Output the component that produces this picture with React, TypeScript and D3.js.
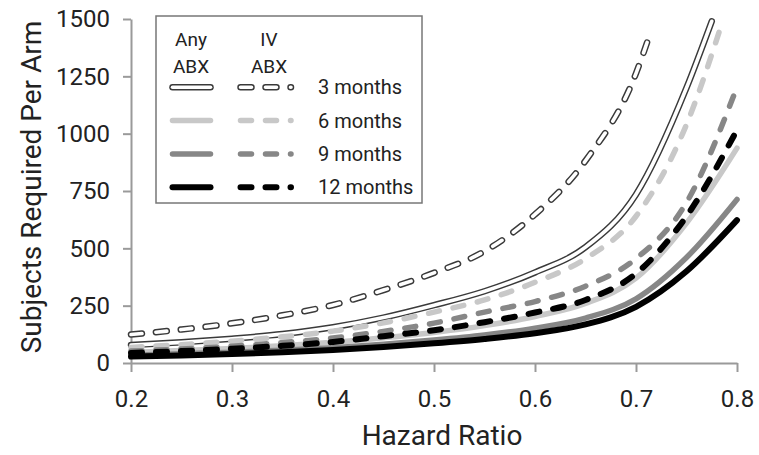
import * as d3 from 'd3'
import { useEffect, useRef } from 'react'

// axis ticks
const hrTicks = [0.2, 0.3, 0.4, 0.5, 0.6, 0.7, 0.8]
const subjectTicks = [0, 250, 500, 750, 1000, 1250, 1500]

// hazard ratios where the curves were read (some curves stop before 1500 is reached)
const hrGrid = [0.2, 0.25, 0.3, 0.35, 0.4, 0.45, 0.5, 0.55, 0.6, 0.65, 0.7, 0.75, 0.8]
const hrAny3 = [0.2, 0.25, 0.3, 0.35, 0.4, 0.45, 0.5, 0.55, 0.6, 0.65, 0.7, 0.75, 0.775]
const hrIv3 = [0.2, 0.25, 0.3, 0.35, 0.4, 0.45, 0.5, 0.55, 0.6, 0.65, 0.7, 0.715]
const hrIv6 = [0.2, 0.25, 0.3, 0.35, 0.4, 0.45, 0.5, 0.55, 0.6, 0.65, 0.7, 0.75, 0.785]

// subjects required per arm, any antibiotics (solid)
const any3 = [78, 90, 106, 126, 156, 198, 252, 313, 395, 505, 735, 1200, 1490]
const any6 = [46, 54, 63, 75, 90, 110, 133, 163, 203, 260, 370, 610, 937]
const any9 = [34, 40, 47, 56, 67, 82, 100, 122, 152, 196, 280, 460, 713]
const any12 = [28, 33, 39, 47, 57, 70, 86, 105, 130, 168, 245, 400, 623]

// subjects required per arm, IV antibiotics (dashed)
const iv3 = [124, 146, 173, 208, 253, 318, 393, 487, 648, 882, 1263, 1450]
const iv6 = [68, 80, 95, 114, 139, 175, 222, 275, 352, 455, 640, 1040, 1480]
const iv9 = [52, 61, 73, 89, 109, 138, 174, 222, 268, 335, 455, 700, 1203]
const iv12 = [44, 52, 62, 75, 92, 117, 143, 178, 220, 275, 390, 640, 1016]

const months = ['3 months', '6 months', '9 months', '12 months']
const monthColors = ['#ffffff', '#c8c8c8', '#878787', '#000000']

const FONT = 'Roboto, sans-serif'
const DASH = '11 14'

function drawLine(sel, d, m, dashed) {
    if (m === 0) {
        sel.append('path').attr('d', d).attr('fill', 'none')
            .attr('stroke', '#3a3a3a').attr('stroke-width', 6.5)
            .attr('stroke-linecap', 'round').attr('stroke-dasharray', dashed ? DASH : null)
        sel.append('path').attr('d', d).attr('fill', 'none')
            .attr('stroke', '#ffffff').attr('stroke-width', 3.6)
            .attr('stroke-linecap', 'round').attr('stroke-dasharray', dashed ? DASH : null)
    } else {
        sel.append('path').attr('d', d).attr('fill', 'none')
            .attr('stroke', monthColors[m]).attr('stroke-width', m === 3 ? 6 : 5.5)
            .attr('stroke-linecap', 'round').attr('stroke-dasharray', dashed ? DASH : null)
    }
}

function makeChart(node) {
    const svg = d3.select(node)
    svg.selectAll('*').remove()

    const x = d3.scaleLinear().domain([0.2, 0.8]).range([131, 737])
    const y = d3.scaleLinear().domain([0, 1500]).range([363, 19])

    // axes
    const gx = svg.append('g').attr('transform', 'translate(0,363)')
        .call(d3.axisBottom(x).tickValues(hrTicks).tickSize(9).tickSizeOuter(0)
            .tickPadding(18).tickFormat(d3.format('.1f')))
    const gy = svg.append('g').attr('transform', 'translate(131,0)')
        .call(d3.axisLeft(y).tickValues(subjectTicks).tickSize(8).tickSizeOuter(0)
            .tickPadding(13).tickFormat(d3.format('d')))
    for (const g of [gx, gy]) {
        g.selectAll('path, line').attr('stroke', '#9a9a9a').attr('stroke-width', 2)
        g.selectAll('text').attr('font-family', FONT).attr('font-size', 24).attr('fill', '#222')
    }

    svg.append('text').attr('x', 442).attr('y', 445)
        .attr('text-anchor', 'middle').attr('font-family', FONT).attr('font-size', 28)
        .attr('fill', '#222').text('Hazard Ratio')
    svg.append('text').attr('transform', 'translate(41,187) rotate(-90)')
        .attr('text-anchor', 'middle').attr('font-family', FONT).attr('font-size', 28)
        .attr('fill', '#222').text('Subjects Required Per Arm')

    // curves
    const series = [
        { hr: hrAny3, v: any3, m: 0, dashed: false },
        { hr: hrGrid, v: any6, m: 1, dashed: false },
        { hr: hrGrid, v: any9, m: 2, dashed: false },
        { hr: hrGrid, v: any12, m: 3, dashed: false },
        { hr: hrIv3, v: iv3, m: 0, dashed: true },
        { hr: hrIv6, v: iv6, m: 1, dashed: true },
        { hr: hrGrid, v: iv9, m: 2, dashed: true },
        { hr: hrGrid, v: iv12, m: 3, dashed: true },
    ]
    const line = d3.line().x(d => x(d[0])).y(d => y(d[1])).curve(d3.curveMonotoneX)
    const plot = svg.append('g')
    series.forEach(s => {
        drawLine(plot.append('g'), line(s.hr.map((h, i) => [h, s.v[i]])), s.m, s.dashed)
    })

    // legend
    const lg = svg.append('g')
    lg.append('rect').attr('x', 156).attr('y', 16).attr('width', 266).attr('height', 187)
        .attr('fill', '#fff').attr('stroke', '#777').attr('stroke-width', 1.5)
    const head = [['Any', 191], ['IV', 269]]
    head.forEach(([t, cx]) => {
        lg.append('text').attr('x', cx).attr('y', 46).attr('text-anchor', 'middle')
            .attr('font-family', FONT).attr('font-size', 19).attr('fill', '#222').text(t)
        lg.append('text').attr('x', cx).attr('y', 73).attr('text-anchor', 'middle')
            .attr('font-family', FONT).attr('font-size', 19).attr('fill', '#222').text('ABX')
    })
    months.forEach((label, m) => {
        const ry = 87.3 + m * 33.3
        drawLine(lg.append('g'), `M172.5,${ry}H210.5`, m, false)
        drawLine(lg.append('g'), `M240.5,${ry}H291`, m, true)
        lg.append('text').attr('x', 318).attr('y', ry + 7)
            .attr('font-family', FONT).attr('font-size', 20).attr('fill', '#222').text(label)
    })
}

function App() {
    const ref = useRef(null)
    useEffect(() => {
        makeChart(ref.current)
    })

    return (
        <svg ref={ref} width="759" height="455"
            style={{ position: 'absolute', left: 0, top: 0, background: '#fff' }}>
        </svg>
    )
}

export default App
